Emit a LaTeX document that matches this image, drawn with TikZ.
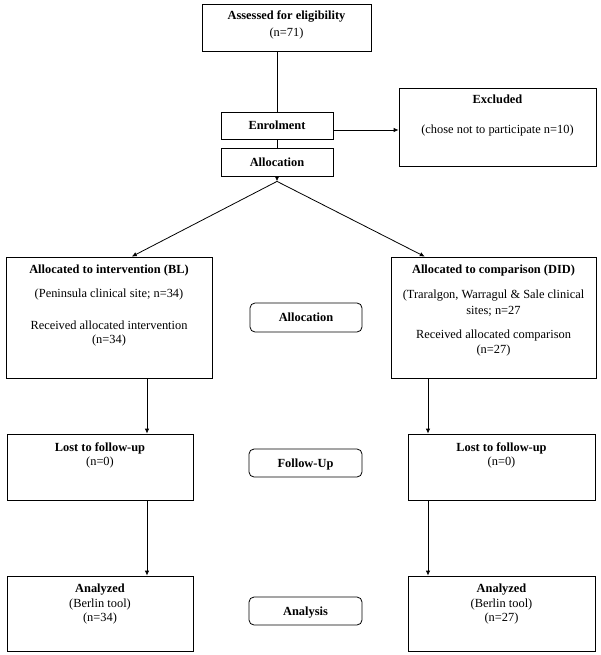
\documentclass[tikz,border=0pt]{standalone}
\usepackage{fontspec}
\setmainfont{Liberation Serif}
\usetikzlibrary{arrows.meta,calc}
\begin{document}
\begin{tikzpicture}[x=1pt,y=-1pt,
  box/.style={draw,line width=0.8pt,inner sep=0pt,rectangle},
  rbox/.style={box,rounded corners=5pt},
  one/.style={text height=8.5pt,text depth=0pt,font=\fontsize{12.4}{14}\selectfont\bfseries},
  lbl/.style={anchor=base,inner sep=0pt,font=\fontsize{12.4}{14}\selectfont},
  blbl/.style={anchor=base,inner sep=0pt,font=\fontsize{12.4}{14}\selectfont\bfseries},
  conn/.style={line width=0.8pt},
  arr/.style={conn,-{Latex[length=5pt,width=4.5pt]}}]
\fill[white] (0,0) rectangle (600,655);
\useasboundingbox (0,0) rectangle (600,655);

% boxes
\node[box,minimum width=169pt,minimum height=47pt] (assess) at (286.5,27.5) {};
\node[box,one,minimum width=112pt,minimum height=27pt] (enrol) at (277,125.5) {Enrolment};
\node[box,one,minimum width=112pt,minimum height=28pt] (allocTop) at (277,162) {Allocation};
\node[box,minimum width=197pt,minimum height=78pt] (excl) at (497.5,127) {};
\node[box,minimum width=206pt,minimum height=121pt] (allocL) at (109,317.5) {};
\node[box,minimum width=205pt,minimum height=121pt] (allocR) at (493.5,317.5) {};
\node[rbox,one,minimum width=112pt,minimum height=29pt] (phaseA) at (306,317.5) {Allocation};
\node[box,minimum width=186pt,minimum height=66pt] (lostL) at (100,467) {};
\node[box,minimum width=187pt,minimum height=66pt] (lostR) at (501.5,467) {};
\node[rbox,one,minimum width=113pt,minimum height=28pt] (phaseF) at (305.5,463) {Follow-Up};
\node[box,minimum width=186pt,minimum height=75pt] (anaL) at (100,613.5) {};
\node[box,minimum width=187pt,minimum height=75pt] (anaR) at (501.5,613.5) {};
\node[rbox,one,minimum width=113pt,minimum height=28pt] (phaseN) at (305.5,611) {Analysis};

% texts
\node[blbl] (t1) at (286.5,20) {Assessed for eligibility};
\node[lbl] (t2) at (286.5,37) {(n=71)};
\node[blbl] (t3) at (497.5,104) {Excluded};
\node[lbl] (t4) at (497.5,134) {(chose not to participate n=10)};
\node[blbl] (t5) at (109,273) {Allocated to intervention (BL)};
\node[lbl] (t6) at (109,297) {(Peninsula clinical site; n=34)};
\node[lbl] (t7) at (109,329) {Received allocated intervention};
\node[lbl] (t8) at (109,343) {(n=34)};
\node[blbl] (t9) at (493.5,273) {Allocated to comparison (DID)};
\node[lbl] (t10) at (493.5,298) {(Traralgon, Warragul \& Sale clinical};
\node[lbl] (t11) at (493.5,314) {sites; n=27};
\node[lbl] (t12) at (493.5,338) {Received allocated comparison};
\node[lbl] (t13) at (493.5,353) {(n=27)};
\node[blbl] (t14) at (100,451) {Lost to follow-up};
\node[lbl] (t15) at (100,465) {(n=0)};
\node[blbl] (t16) at (501.5,451) {Lost to follow-up};
\node[lbl] (t17) at (501.5,465) {(n=0)};
\node[blbl] (t18) at (100,592) {Analyzed};
\node[lbl] (t19) at (100,607) {(Berlin tool)};
\node[lbl] (t20) at (100,621) {(n=34)};
\node[blbl] (t21) at (501.5,592) {Analyzed};
\node[lbl] (t22) at (501.5,607) {(Berlin tool)};
\node[lbl] (t23) at (501.5,621) {(n=27)};

% connectors
\coordinate (colL) at (147,0);
\coordinate (colR) at (428,0);
\draw[conn] (assess.south -| enrol.north) -- (enrol.north);
\draw[conn] (enrol.south) -- (allocTop.north);
\draw[arr] ([yshift=-4.5pt]enrol.east) -- ([yshift=-4.5pt]enrol.east -| excl.west);
\coordinate (split) at ([yshift=-5pt]allocTop.south);
\draw[arr] (allocTop.south) -- (split);
\draw[arr] (split) -- ($(allocL.north west)!0.61!(allocL.north east)$);
\draw[arr] (split) -- ($(allocR.north west)!0.166!(allocR.north east)$);
\draw[arr] (allocL.south -| colL) -- (lostL.north -| colL);
\draw[arr] (allocR.south -| colR) -- (lostR.north -| colR);
\draw[arr] (lostL.south -| colL) -- (anaL.north -| colL);
\draw[arr] (lostR.south -| colR) -- (anaR.north -| colR);
\end{tikzpicture}
\end{document}
